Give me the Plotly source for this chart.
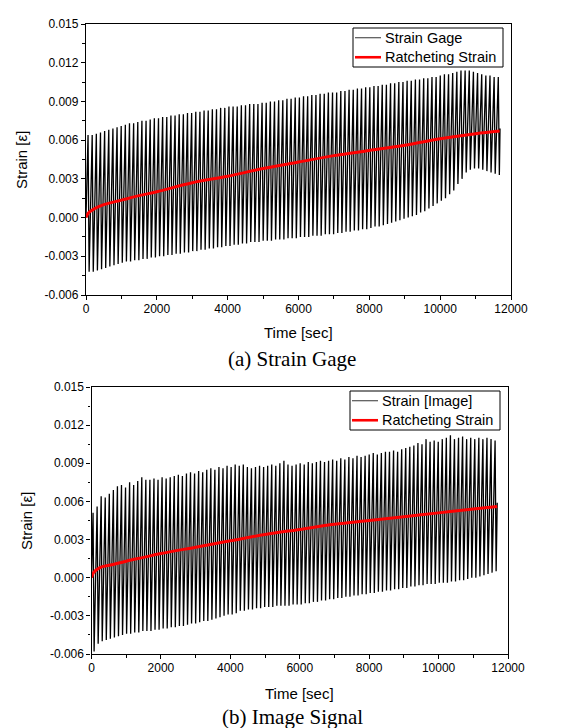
import plotly.graph_objects as go

# ---------------- data ----------------
cycle_period = 117.0          # s, one loading cycle

# (a) Strain gage signal: peak / valley strain of every cycle
gage_first_peak = 58.0
gage_fall = 30.0
gage_start = 0.0
gage_end_time, gage_end_value = 11690.0, 0.0069
gage_peaks = [
    0.0064, 0.0064, 0.0065, 0.0066, 0.0067, 0.0068, 0.0069, 0.0070, 0.0071, 0.0072,
    0.0073, 0.0073, 0.0074, 0.0075, 0.0075, 0.0076, 0.0077, 0.0077, 0.0078, 0.0078,
    0.0079, 0.0079, 0.0080, 0.0080, 0.0081, 0.0081, 0.0082, 0.0082, 0.0083, 0.0083,
    0.0084, 0.0084, 0.0085, 0.0085, 0.0086, 0.0086, 0.0086, 0.0087, 0.0087, 0.0088,
    0.0088, 0.0088, 0.0089, 0.0089, 0.0090, 0.0090, 0.0091, 0.0091, 0.0092, 0.0092,
    0.0093, 0.0093, 0.0094, 0.0094, 0.0095, 0.0095, 0.0096, 0.0096, 0.0097, 0.0097,
    0.0097, 0.0098, 0.0098, 0.0099, 0.0099, 0.0100, 0.0100, 0.0101, 0.0101, 0.0102,
    0.0102, 0.0103, 0.0103, 0.0104, 0.0104, 0.0105, 0.0105, 0.0106, 0.0106, 0.0107,
    0.0107, 0.0108, 0.0108, 0.0109, 0.0109, 0.0110, 0.0111, 0.0111, 0.0112, 0.0113,
    0.0114, 0.0114, 0.0114, 0.0113, 0.0112, 0.0111, 0.0110, 0.0110, 0.0109, 0.0109,
]
gage_valleys = [
    -0.0042, -0.0042, -0.0041, -0.0040, -0.0039, -0.0038, -0.0037, -0.0036, -0.0035, -0.0034,
    -0.0034, -0.0033, -0.0033, -0.0032, -0.0032, -0.0031, -0.0031, -0.0030, -0.0030, -0.0029,
    -0.0029, -0.0028, -0.0028, -0.0027, -0.0027, -0.0026, -0.0026, -0.0025, -0.0025, -0.0024,
    -0.0024, -0.0023, -0.0023, -0.0022, -0.0022, -0.0021, -0.0021, -0.0020, -0.0020, -0.0019,
    -0.0019, -0.0019, -0.0018, -0.0018, -0.0018, -0.0017, -0.0017, -0.0017, -0.0016, -0.0016,
    -0.0016, -0.0015, -0.0015, -0.0015, -0.0014, -0.0014, -0.0014, -0.0013, -0.0013, -0.0013,
    -0.0012, -0.0012, -0.0011, -0.0011, -0.0010, -0.0010, -0.0009, -0.0009, -0.0008, -0.0007,
    -0.0007, -0.0006, -0.0005, -0.0004, -0.0003, -0.0002, -0.0001, 0.0000, 0.0001, 0.0002,
    0.0004, 0.0005, 0.0007, 0.0009, 0.0011, 0.0013, 0.0015, 0.0018, 0.0021, 0.0026,
    0.0030, 0.0035, 0.0037, 0.0038, 0.0038, 0.0037, 0.0036, 0.0035, 0.0034, 0.0033,
]
gage_ratchet_time = [0, 80, 250, 500, 1000, 1500, 2000, 3000, 4000, 5000,
                     6000, 7000, 8000, 9000, 10000, 11000, 11680]
gage_ratchet_strain = [0.0, 0.0004, 0.0007, 0.0010, 0.00135, 0.0017, 0.0020, 0.0027, 0.0032, 0.0038,
                       0.0043, 0.0048, 0.0052, 0.0056, 0.0061, 0.0065, 0.0067]

# (b) Image signal: peak / valley strain of every cycle
image_first_peak = 45.0
image_fall = 30.0
image_start = 0.0
image_end_time, image_end_value = 11690.0, 0.0059
image_peaks = [
    0.0051, 0.0056, 0.0064, 0.0063, 0.0066, 0.0069, 0.0072, 0.0073, 0.0071, 0.0075,
    0.0073, 0.0076, 0.0079, 0.0077, 0.0077, 0.0078, 0.0077, 0.0079, 0.0078, 0.0079,
    0.0080, 0.0081, 0.0080, 0.0082, 0.0083, 0.0082, 0.0084, 0.0083, 0.0085, 0.0086,
    0.0085, 0.0087, 0.0086, 0.0088, 0.0087, 0.0089, 0.0088, 0.0089, 0.0087, 0.0086,
    0.0087, 0.0088, 0.0087, 0.0088, 0.0089, 0.0088, 0.0090, 0.0092, 0.0089, 0.0088,
    0.0089, 0.0090, 0.0089, 0.0091, 0.0090, 0.0091, 0.0092, 0.0091, 0.0092, 0.0093,
    0.0092, 0.0094, 0.0093, 0.0095, 0.0094, 0.0096, 0.0095, 0.0096, 0.0097, 0.0098,
    0.0097, 0.0098, 0.0099, 0.0099, 0.0100, 0.0099, 0.0101, 0.0102, 0.0103, 0.0104,
    0.0106, 0.0105, 0.0109, 0.0107, 0.0108, 0.0107, 0.0109, 0.0110, 0.0112, 0.0109,
    0.0110, 0.0111, 0.0109, 0.0110, 0.0109, 0.0110, 0.0109, 0.0110, 0.0109, 0.0108,
]
image_valleys = [
    -0.0058, -0.0052, -0.0050, -0.0049, -0.0048, -0.0047, -0.0046, -0.0045, -0.0044, -0.0044,
    -0.0043, -0.0043, -0.0042, -0.0042, -0.0042, -0.0041, -0.0041, -0.0040, -0.0040, -0.0039,
    -0.0039, -0.0038, -0.0038, -0.0037, -0.0036, -0.0036, -0.0035, -0.0034, -0.0034, -0.0033,
    -0.0032, -0.0031, -0.0030, -0.0029, -0.0029, -0.0028, -0.0026, -0.0026, -0.0025, -0.0025,
    -0.0024, -0.0024, -0.0023, -0.0023, -0.0023, -0.0022, -0.0022, -0.0022, -0.0022, -0.0021,
    -0.0021, -0.0021, -0.0020, -0.0020, -0.0019, -0.0019, -0.0018, -0.0018, -0.0017, -0.0017,
    -0.0016, -0.0016, -0.0015, -0.0015, -0.0014, -0.0014, -0.0013, -0.0013, -0.0012, -0.0012,
    -0.0011, -0.0011, -0.0010, -0.0010, -0.0009, -0.0009, -0.0008, -0.0008, -0.0007, -0.0007,
    -0.0006, -0.0006, -0.0005, -0.0005, -0.0005, -0.0004, -0.0004, -0.0004, -0.0003, -0.0003,
    -0.0002, -0.0002, -0.0001, 0.0000, 0.0000, 0.0001, 0.0002, 0.0003, 0.0004, 0.0005,
]
image_ratchet_time = [0, 60, 240, 550, 1000, 1500, 2000, 3000, 4000, 5000,
                      6000, 7000, 8000, 9000, 10000, 11000, 11690]
image_ratchet_strain = [0.0, 0.0004, 0.0008, 0.0010, 0.0013, 0.0016, 0.0019, 0.0024, 0.0029, 0.0034,
                        0.0038, 0.0042, 0.0045, 0.0048, 0.0051, 0.0054, 0.0056]

x_ticks = [0, 2000, 4000, 6000, 8000, 10000, 12000]
x_ticktext = ["0", "2000", "4000", "6000", "8000", "10000", "12000"]
y_ticks = [-0.006, -0.003, 0.0, 0.003, 0.006, 0.009, 0.012, 0.015]
y_ticktext = ["-0.006", "-0.003", "0.000", "0.003", "0.006", "0.009", "0.012", "0.015"]

top_legend_names = ["Strain Gage", "Ratcheting Strain"]
bottom_legend_names = ["Strain [Image]", "Ratcheting Strain"]


def build_signal(first_peak, fall, start, peaks, valleys, end_t, end_v):
    t, v = [0.0], [start]
    for k, (p, q) in enumerate(zip(peaks, valleys)):
        tp = first_peak + k * cycle_period
        t += [tp, tp + fall]
        v += [p, q]
    t.append(end_t)
    v.append(end_v)
    return t, v


gt, gv = build_signal(gage_first_peak, gage_fall, gage_start, gage_peaks, gage_valleys,
                      gage_end_time, gage_end_value)
it, iv = build_signal(image_first_peak, image_fall, image_start, image_peaks, image_valleys,
                      image_end_time, image_end_value)

# ---------------- layout geometry (pixels) ----------------
W, H = 563, 728
top_px = dict(x0=78.0, x1=503.0, y0=16.0, y1=287.0)
bot_px = dict(x0=83.5, x1=500.0, y0=379.0, y1=646.0)
# legend boxes: left, right, top, bottom (pixels)
top_leg = dict(l=345.0, r=495.0, t=20.0, b=59.0)
bot_leg = dict(l=342.0, r=492.0, t=383.0, b=422.0)

SIGNAL_COLOR = "black"
RATCHET_COLOR = "#ff0000"
SIGNAL_W = 1.3
RATCHET_W = 3.0


def px_x(x):
    return x / W


def px_y(y):
    return 1 - y / H


def xdom(p):
    return [p["x0"] / W, p["x1"] / W]


def ydom(p):
    return [1 - p["y1"] / H, 1 - p["y0"] / H]


FONT = "Arial, Liberation Sans, sans-serif"
SERIF = "Times New Roman, Liberation Serif, serif"

fig = go.Figure()

fig.add_trace(go.Scatter(x=gt, y=gv, mode="lines", name=top_legend_names[0],
                         line=dict(color=SIGNAL_COLOR, width=SIGNAL_W), xaxis="x", yaxis="y"))
fig.add_trace(go.Scatter(x=gage_ratchet_time, y=gage_ratchet_strain, mode="lines",
                         name=top_legend_names[1],
                         line=dict(color=RATCHET_COLOR, width=RATCHET_W, shape="spline"),
                         xaxis="x", yaxis="y"))
fig.add_trace(go.Scatter(x=it, y=iv, mode="lines", name=bottom_legend_names[0],
                         line=dict(color=SIGNAL_COLOR, width=SIGNAL_W), xaxis="x2", yaxis="y2"))
fig.add_trace(go.Scatter(x=image_ratchet_time, y=image_ratchet_strain, mode="lines",
                         name=bottom_legend_names[1],
                         line=dict(color=RATCHET_COLOR, width=RATCHET_W, shape="spline"),
                         xaxis="x2", yaxis="y2"))

tickfont = dict(family=FONT, size=12, color="black")


def xaxis_main(dom, anchor):
    return dict(domain=dom, anchor=anchor, range=[0, 12000], tickvals=x_ticks, ticktext=x_ticktext,
                ticks="outside", ticklen=4, tickwidth=1.2, tickcolor="black", ticklabelstandoff=-2,
                minor=dict(dtick=1000, ticks="outside", ticklen=2.5, tickwidth=1, tickcolor="black"),
                showline=True, linecolor="black", linewidth=1.3, mirror=True,
                showgrid=False, zeroline=False, tickfont=tickfont)


def yaxis_main(dom, anchor):
    return dict(domain=dom, anchor=anchor, range=[-0.006, 0.015], tickvals=y_ticks, ticktext=y_ticktext,
                ticks="outside", ticklen=4, tickwidth=1.2, tickcolor="black",
                minor=dict(dtick=0.0015, tick0=0, ticks="outside", ticklen=2.5, tickwidth=1, tickcolor="black"),
                showline=True, linecolor="black", linewidth=1.3, mirror=True,
                showgrid=False, zeroline=False, tickfont=tickfont)


def xaxis_mirror(over, anchor):
    return dict(overlaying=over, anchor=anchor, side="top", range=[0, 12000], tickvals=x_ticks,
                showticklabels=False, ticks="inside", ticklen=4, tickwidth=1.2, tickcolor="black",
                minor=dict(dtick=1000, ticks="inside", ticklen=2.5, tickwidth=1, tickcolor="black"),
                showline=False, showgrid=False, zeroline=False)


def yaxis_mirror(over, anchor):
    return dict(overlaying=over, anchor=anchor, side="right", range=[-0.006, 0.015], tickvals=y_ticks,
                showticklabels=False, ticks="inside", ticklen=4, tickwidth=1.2, tickcolor="black",
                minor=dict(dtick=0.0015, tick0=0, ticks="inside", ticklen=2.5, tickwidth=1, tickcolor="black"),
                showline=False, showgrid=False, zeroline=False)


fig.update_layout(
    width=W, height=H,
    margin=dict(l=0, r=0, t=0, b=0, autoexpand=False),
    paper_bgcolor="white", plot_bgcolor="white",
    showlegend=False,
    xaxis=xaxis_main(xdom(top_px), "y"),
    yaxis=yaxis_main(ydom(top_px), "x"),
    xaxis2=xaxis_main(xdom(bot_px), "y2"),
    yaxis2=yaxis_main(ydom(bot_px), "x2"),
    xaxis3=xaxis_mirror("x", "y"),
    yaxis3=yaxis_mirror("y", "x"),
    xaxis4=xaxis_mirror("x2", "y2"),
    yaxis4=yaxis_mirror("y2", "x2"),
)

# ---- legend boxes (boxed key, Origin style) ----
shapes = []
annotations = []
leg_font = dict(family=FONT, size=14.5, color="black")
for box, names in ((top_leg, top_legend_names), (bot_leg, bottom_legend_names)):
    shapes.append(dict(type="rect", xref="paper", yref="paper",
                       x0=px_x(box["l"]), x1=px_x(box["r"]), y0=px_y(box["b"]), y1=px_y(box["t"]),
                       line=dict(color="black", width=1), fillcolor="white", layer="above"))
    row_h = (box["b"] - box["t"]) / 2
    for i, (name, col, lw) in enumerate(zip(names, ["#333333", RATCHET_COLOR], [1, 2.6])):
        yc = box["t"] + row_h * (i + 0.5)
        shapes.append(dict(type="line", xref="paper", yref="paper",
                           x0=px_x(box["l"] + 2), x1=px_x(box["l"] + 28), y0=px_y(yc), y1=px_y(yc),
                           line=dict(color=col, width=lw), layer="above"))
        annotations.append(dict(text=name, x=px_x(box["l"] + 31), y=px_y(yc), xref="paper", yref="paper",
                                showarrow=False, xanchor="left", yanchor="middle", font=leg_font,
                                borderpad=0))

ann_font = dict(family=FONT, size=15, color="black")
annotations += [
    dict(text="Time [sec]", x=px_x((top_px["x0"] + top_px["x1"]) / 2), y=px_y(324),
         xref="paper", yref="paper",
         showarrow=False, xanchor="center", yanchor="middle", font=ann_font),
    dict(text="Time [sec]", x=px_x((bot_px["x0"] + bot_px["x1"]) / 2), y=px_y(685),
         xref="paper", yref="paper",
         showarrow=False, xanchor="center", yanchor="middle", font=ann_font),
    dict(text="Strain [ε]", x=px_x(13), y=px_y(152), xref="paper", yref="paper", textangle=-90,
         showarrow=False, xanchor="center", yanchor="middle", font=ann_font),
    dict(text="Strain [ε]", x=px_x(18), y=px_y(513), xref="paper", yref="paper", textangle=-90,
         showarrow=False, xanchor="center", yanchor="middle", font=ann_font),
    dict(text="(a) Strain Gage", x=px_x(284), y=px_y(351), xref="paper", yref="paper",
         showarrow=False, xanchor="center", yanchor="middle", borderpad=0,
         font=dict(family=SERIF, size=21, color="black")),
    dict(text="(b) Image Signal", x=px_x(284), y=px_y(709), xref="paper", yref="paper",
         showarrow=False, xanchor="center", yanchor="middle", borderpad=0,
         font=dict(family=SERIF, size=21, color="black")),
]
fig.update_layout(shapes=shapes, annotations=annotations)

fig.write_html("out.html")
